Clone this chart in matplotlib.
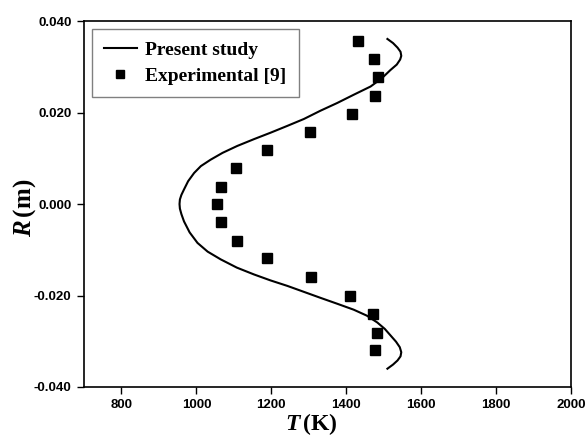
import matplotlib
matplotlib.use("Agg")
import matplotlib.pyplot as plt

plt.rcParams['mathtext.fontset'] = 'custom'
plt.rcParams['mathtext.it'] = 'Liberation Serif:italic:bold'
plt.rcParams['mathtext.rm'] = 'Liberation Serif:bold'

# Data eksperimen (titik kotak)
T_exp = [1432, 1475, 1485, 1476, 1416, 1304, 1189, 1107, 1066, 1054,
         1067, 1108, 1189, 1306, 1411, 1472, 1482, 1476]
R_exp = [0.0357, 0.0317, 0.0277, 0.0237, 0.0197, 0.0158, 0.0119, 0.0079, 0.0037, 0.0000,
         -0.0040, -0.0080, -0.0117, -0.0159, -0.0202, -0.0240, -0.0282, -0.0320]

# Kurva hasil studi
T_model = [1510, 1525, 1537, 1545, 1547, 1544, 1535, 1518, 1495, 1465, 1420, 1376, 1331,
           1287, 1243, 1198, 1154, 1109, 1070, 1038, 1012, 994, 978, 967, 960, 956, 955,
           956, 960, 967, 982, 1003, 1030, 1065, 1108, 1154, 1198, 1243, 1287, 1331, 1376,
           1420, 1455, 1483, 1503, 1518, 1533, 1543, 1547, 1545, 1537, 1525, 1510]
R_model = [0.0361, 0.0352, 0.0342, 0.0333, 0.0324, 0.0316, 0.0305, 0.0293, 0.0275, 0.0257,
           0.0239, 0.0221, 0.0204, 0.0186, 0.0171, 0.0156, 0.0142, 0.0127, 0.0112, 0.0097,
           0.0083, 0.0068, 0.0050, 0.0032, 0.0020, 0.0010, 0.0000, -0.0010, -0.0022, -0.0038,
           -0.0062, -0.0085, -0.0104, -0.0121, -0.0139, -0.0154, -0.0167, -0.0179, -0.0192,
           -0.0205, -0.0218, -0.0231, -0.0244, -0.0259, -0.0273, -0.0287, -0.0301, -0.0313,
           -0.0324, -0.0333, -0.0342, -0.0351, -0.0360]

x_ticks = [800, 1000, 1200, 1400, 1600, 1800, 2000]
y_ticks = [-0.04, -0.02, 0.0, 0.02, 0.04]

fig = plt.figure(figsize=(5.85, 4.4), dpi=100)
ax = fig.add_axes([0.1436, 0.1205, 0.8324, 0.8315])

ax.plot(T_model, R_model, color='black', linewidth=1.5, label='Present study')
ax.plot(T_exp, R_exp, linestyle='none', marker='s', markersize=7, color='black',
        label='Experimental [9]')

ax.set_xlim(700, 2000)
ax.set_ylim(-0.04, 0.04)
ax.set_xticks(x_ticks)
ax.set_yticks(y_ticks)
ax.set_xticklabels([str(v) for v in x_ticks])
ax.set_yticklabels([f"{v:.3f}" for v in y_ticks])
ax.tick_params(direction='out', length=5, width=1, pad=4)
for lab in ax.get_xticklabels() + ax.get_yticklabels():
    lab.set_fontfamily('Liberation Sans')
    lab.set_fontweight('bold')
    lab.set_fontsize(9.5)
for sp in ax.spines.values():
    sp.set_linewidth(1.2)

ax.set_xlabel(r"$T\,$(K)", fontsize=17, fontweight='bold',
              fontfamily='Liberation Serif')
ax.set_ylabel(r"$R\,$(m)", fontsize=18, fontweight='bold', fontfamily='Liberation Serif')
ax.xaxis.set_label_coords(0.466, -0.065)
ax.yaxis.set_label_coords(-0.095, 0.49)

leg = ax.legend(loc='upper left', bbox_to_anchor=(0.0, 1.0), borderaxespad=0.4,
                fancybox=False, edgecolor='gray', framealpha=1,
                prop={'family': 'Liberation Serif', 'weight': 'bold', 'size': 14},
                handlelength=1.65, handletextpad=0.45, borderpad=0.65, labelspacing=0.4,
                markerscale=0.75)
leg.get_frame().set_linewidth(1.0)

fig.savefig("out.png", dpi=100)
